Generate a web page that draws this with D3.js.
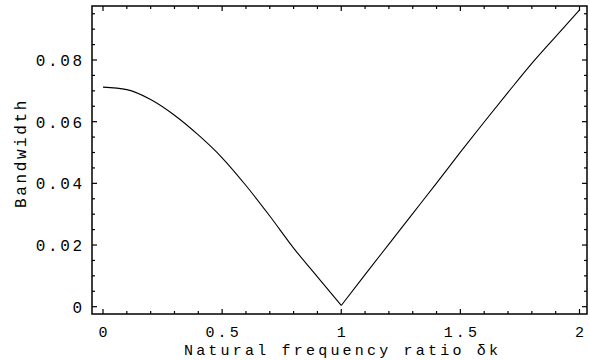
<!DOCTYPE html>
<html>
<head>
<meta charset="utf-8">
<script src="https://cdn.jsdelivr.net/npm/d3@7"></script>
<style>
  html, body { margin: 0; padding: 0; background: #fff; }
  svg text { font-family: "Courier New", "Liberation Mono", monospace; fill: #000; }
</style>
</head>
<body>
<svg id="chart" width="590" height="360"></svg>
<script>
// ---- data ----
const xValues = [0, 0.1, 0.2, 0.3, 0.4, 0.5, 0.6, 0.7, 0.8, 0.9, 1.0,
                 1.1, 1.2, 1.3, 1.4, 1.5, 1.6, 1.7, 1.8, 1.9, 2.0];
const bandwidth = [0.0712, 0.0704, 0.0672, 0.0621, 0.0557, 0.0483, 0.0393, 0.0294, 0.0190, 0.0097, 0.0004,
                   0.0104, 0.0203, 0.0302, 0.0401, 0.0501, 0.0599, 0.0695, 0.0789, 0.0876, 0.0962];
const xTicks = [0, 0.5, 1, 1.5, 2];
const xTickLabels = ["0", "0.5", "1", "1.5", "2"];
const yTicks = [0, 0.02, 0.04, 0.06, 0.08];
const yTickLabels = ["0", "0.02", "0.04", "0.06", "0.08"];
const xLabel = "Natural frequency ratio \u03B4k";
const yLabel = "Bandwidth";

// ---- layout ----
const svg = d3.select("#chart");
const frame = { left: 92, right: 587, top: 6, bottom: 314 };
const x = d3.scaleLinear().domain([0, 2]).range([103, 579.5]);
const y = d3.scaleLinear().domain([0, 0.08]).range([306.7, 60]);
const fontSize = 16, ls = 2.6;       // left-axis texts
const fontSizeB = 15, lsB = 3.2;     // bottom-axis texts

const xMinor = d3.range(0, 21).map(i => i / 10).filter(v => !xTicks.some(t => Math.abs(t - v) < 1e-9));
const yMinor = d3.range(0, 20).map(i => i * 0.005)
  .filter(v => y(v) >= frame.top && !yTicks.some(t => Math.abs(t - v) < 1e-9));

const g = svg.append("g");

// frame
g.append("rect")
  .attr("x", frame.left).attr("y", frame.top)
  .attr("width", frame.right - frame.left).attr("height", frame.bottom - frame.top)
  .attr("fill", "none").attr("stroke", "#000").attr("stroke-width", 1.5);

function xticks(vals, len) {
  g.selectAll(null).data(vals).enter().append("line")
    .attr("x1", d => x(d)).attr("x2", d => x(d))
    .attr("y1", frame.bottom).attr("y2", frame.bottom - len)
    .attr("stroke", "#000").attr("stroke-width", 1.2);
  g.selectAll(null).data(vals).enter().append("line")
    .attr("x1", d => x(d)).attr("x2", d => x(d))
    .attr("y1", frame.top).attr("y2", frame.top + len)
    .attr("stroke", "#000").attr("stroke-width", 1.2);
}
function yticks(vals, len) {
  g.selectAll(null).data(vals).enter().append("line")
    .attr("y1", d => y(d)).attr("y2", d => y(d))
    .attr("x1", frame.left).attr("x2", frame.left + len)
    .attr("stroke", "#000").attr("stroke-width", 1.2);
  g.selectAll(null).data(vals).enter().append("line")
    .attr("y1", d => y(d)).attr("y2", d => y(d))
    .attr("x1", frame.right).attr("x2", frame.right - len)
    .attr("stroke", "#000").attr("stroke-width", 1.2);
}
xticks(xTicks, 5);
xticks(xMinor, 3);
yticks(yTicks, 5);
yticks(yMinor, 3);

// tick labels
g.selectAll(null).data(xTicks).enter().append("text")
  .attr("x", d => x(d) + lsB / 2).attr("y", 337)
  .attr("text-anchor", "middle")
  .attr("font-size", fontSizeB).attr("letter-spacing", lsB)
  .text((d, i) => xTickLabels[i]);

g.selectAll(null).data(yTicks).enter().append("text")
  .attr("x", 82 + ls).attr("y", d => y(d) + 6)
  .attr("text-anchor", "end")
  .attr("font-size", fontSize).attr("letter-spacing", ls)
  .text((d, i) => yTickLabels[i]);

// axis labels
g.append("text")
  .attr("x", 341 + lsB / 2).attr("y", 355)
  .attr("text-anchor", "middle")
  .attr("font-size", fontSizeB).attr("letter-spacing", lsB)
  .text(xLabel);

g.append("text")
  .attr("transform", "translate(26,153) rotate(-90)")
  .attr("text-anchor", "middle")
  .attr("font-size", fontSize).attr("letter-spacing", ls)
  .text(yLabel);

// curve: two branches meeting in a sharp minimum at x = 1
const data = xValues.map((v, i) => ({ x: v, y: bandwidth[i] }));
const branches = [data.filter(d => d.x <= 1), data.filter(d => d.x >= 1)];
const line = d3.line().x(d => x(d.x)).y(d => y(d.y)).curve(d3.curveMonotoneX);
g.selectAll(null).data(branches).enter().append("path")
  .attr("d", line)
  .attr("fill", "none")
  .attr("stroke", "#000")
  .attr("stroke-width", 1.1);
</script>
</body>
</html>
